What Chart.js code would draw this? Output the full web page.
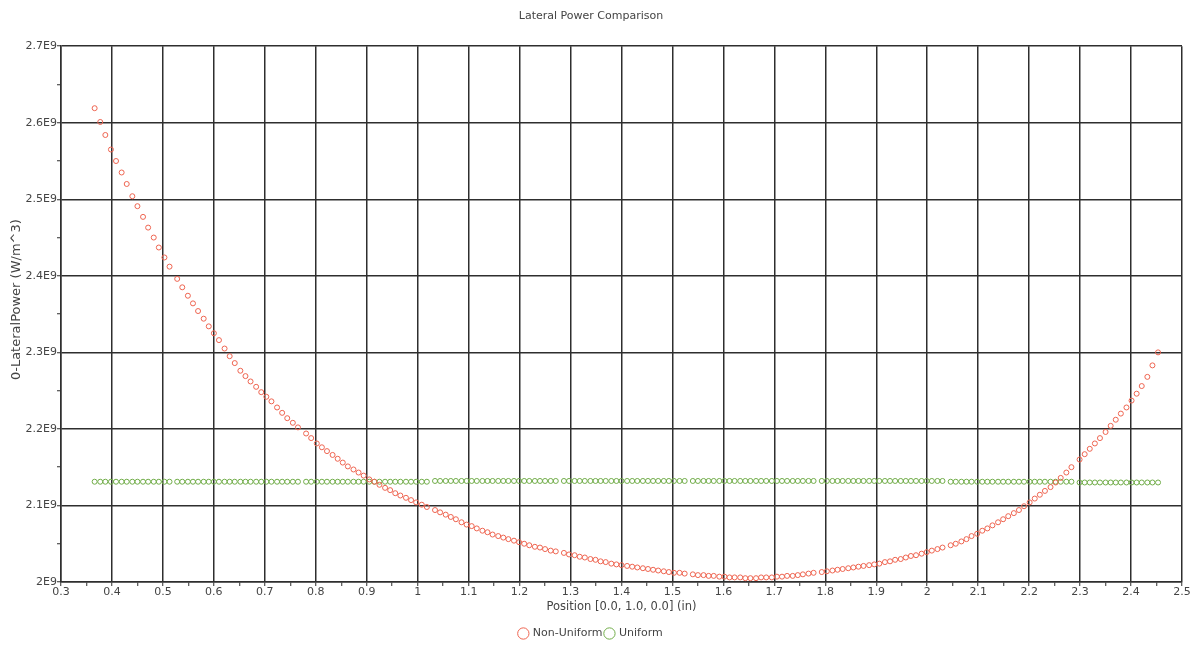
<!DOCTYPE html>
<html>
<head>
<meta charset="utf-8">
<script src="https://cdn.jsdelivr.net/npm/chart.js@4.4.1/dist/chart.umd.min.js"></script>
<style>
  html, body { margin: 0; padding: 0; background: #ffffff; }
  #wrap { width: 1195px; height: 645px; }
</style>
</head>
<body>
<div id="wrap"><canvas id="c" width="1195" height="645"></canvas></div>
<script>
// Positions along the line (in)
const positionsIn = [
  0.366, 0.377, 0.387, 0.398, 0.408, 0.419, 0.429, 0.440, 0.450, 0.461, 0.471, 0.482, 0.492, 0.503, 0.513,
  0.528, 0.538, 0.549, 0.559, 0.569, 0.580, 0.590, 0.600, 0.610, 0.621, 0.631, 0.641,
  0.652, 0.662, 0.672, 0.683, 0.693, 0.703, 0.713, 0.724, 0.734, 0.744, 0.755, 0.765,
  0.781, 0.791, 0.802, 0.812, 0.822, 0.833, 0.843, 0.853, 0.863, 0.874, 0.884, 0.894,
  0.905, 0.915, 0.925, 0.936, 0.946, 0.956, 0.966, 0.977, 0.987, 0.997, 1.008, 1.018,
  1.034, 1.044, 1.055, 1.065, 1.075, 1.086, 1.096, 1.106, 1.116, 1.127, 1.137, 1.147,
  1.158, 1.168, 1.178, 1.189, 1.199, 1.209, 1.219, 1.230, 1.240, 1.250, 1.261, 1.271,
  1.287, 1.297, 1.308, 1.318, 1.328, 1.339, 1.349, 1.359, 1.369, 1.380, 1.390, 1.400,
  1.411, 1.421, 1.431, 1.442, 1.452, 1.462, 1.472, 1.483, 1.493, 1.503, 1.514, 1.524,
  1.540, 1.550, 1.561, 1.571, 1.581, 1.592, 1.602, 1.612, 1.622, 1.633, 1.643, 1.653,
  1.664, 1.674, 1.684, 1.695, 1.705, 1.715, 1.725, 1.736, 1.746, 1.756, 1.767, 1.777,
  1.793, 1.803, 1.814, 1.824, 1.834, 1.845, 1.855, 1.865, 1.875, 1.886, 1.896, 1.906,
  1.917, 1.927, 1.937, 1.948, 1.958, 1.968, 1.978, 1.989, 1.999, 2.009, 2.020, 2.030,
  2.046, 2.056, 2.067, 2.077, 2.087, 2.098, 2.108, 2.118, 2.128, 2.139, 2.149, 2.159,
  2.170, 2.180, 2.190, 2.201, 2.211, 2.221, 2.231, 2.242, 2.252, 2.262, 2.273, 2.283,
  2.299, 2.309, 2.319, 2.329, 2.339, 2.350, 2.360, 2.370, 2.380, 2.391, 2.401, 2.411,
  2.421, 2.432, 2.442, 2.453
];

// Non-Uniform lateral power (units of 1E9 W/m^3)
const nonUniformE9 = [
  2.619, 2.601, 2.584, 2.565, 2.550, 2.535, 2.520, 2.504, 2.491, 2.477, 2.463, 2.450, 2.437, 2.424, 2.412,
  2.396, 2.385, 2.374, 2.364, 2.354, 2.344, 2.334, 2.325, 2.316, 2.305, 2.295, 2.286,
  2.276, 2.269, 2.262, 2.255, 2.248, 2.242, 2.236, 2.228, 2.221, 2.214, 2.208, 2.202,
  2.194, 2.188, 2.181, 2.176, 2.171, 2.166, 2.161, 2.156, 2.151, 2.147, 2.143, 2.139,
  2.134, 2.131, 2.127, 2.123, 2.120, 2.116, 2.113, 2.110, 2.107, 2.104, 2.101, 2.098,
  2.094, 2.091, 2.088, 2.085, 2.082, 2.078, 2.075, 2.073, 2.070, 2.067, 2.065, 2.062,
  2.060, 2.058, 2.056, 2.054, 2.052, 2.050, 2.048, 2.046, 2.045, 2.043, 2.041, 2.040,
  2.038, 2.036, 2.035, 2.033, 2.032, 2.030, 2.029, 2.027, 2.026, 2.024, 2.023, 2.022,
  2.021, 2.020, 2.019, 2.018, 2.017, 2.016, 2.015, 2.014, 2.013, 2.012, 2.012, 2.011,
  2.010, 2.009, 2.009, 2.008, 2.008, 2.007, 2.007, 2.006, 2.006, 2.006, 2.005, 2.005,
  2.005, 2.006, 2.006, 2.006, 2.007, 2.007, 2.008, 2.008, 2.009, 2.010, 2.011, 2.012,
  2.013, 2.014, 2.015, 2.016, 2.017, 2.018, 2.019, 2.020, 2.021, 2.022, 2.023, 2.024,
  2.026, 2.027, 2.029, 2.030, 2.032, 2.034, 2.035, 2.037, 2.039, 2.041, 2.043, 2.045,
  2.048, 2.050, 2.053, 2.056, 2.060, 2.063, 2.067, 2.070, 2.074, 2.078, 2.082, 2.086,
  2.090, 2.094, 2.099, 2.104, 2.109, 2.114, 2.119, 2.124, 2.130, 2.136, 2.143, 2.150,
  2.160, 2.167, 2.174, 2.181, 2.188, 2.196, 2.204, 2.212, 2.220, 2.228, 2.237, 2.246,
  2.256, 2.268, 2.283, 2.300
];

// Uniform lateral power (units of 1E9 W/m^3)
const uniformE9 = [
  2.131, 2.131, 2.131, 2.131, 2.131, 2.131, 2.131, 2.131, 2.131, 2.131, 2.131, 2.131, 2.131, 2.131, 2.131,
  2.131, 2.131, 2.131, 2.131, 2.131, 2.131, 2.131, 2.131, 2.131, 2.131, 2.131, 2.131,
  2.131, 2.131, 2.131, 2.131, 2.131, 2.131, 2.131, 2.131, 2.131, 2.131, 2.131, 2.131,
  2.131, 2.131, 2.131, 2.131, 2.131, 2.131, 2.131, 2.131, 2.131, 2.131, 2.131, 2.131,
  2.131, 2.131, 2.131, 2.131, 2.131, 2.131, 2.131, 2.131, 2.131, 2.131, 2.131, 2.131,
  2.132, 2.132, 2.132, 2.132, 2.132, 2.132, 2.132, 2.132, 2.132, 2.132, 2.132, 2.132,
  2.132, 2.132, 2.132, 2.132, 2.132, 2.132, 2.132, 2.132, 2.132, 2.132, 2.132, 2.132,
  2.132, 2.132, 2.132, 2.132, 2.132, 2.132, 2.132, 2.132, 2.132, 2.132, 2.132, 2.132,
  2.132, 2.132, 2.132, 2.132, 2.132, 2.132, 2.132, 2.132, 2.132, 2.132, 2.132, 2.132,
  2.132, 2.132, 2.132, 2.132, 2.132, 2.132, 2.132, 2.132, 2.132, 2.132, 2.132, 2.132,
  2.132, 2.132, 2.132, 2.132, 2.132, 2.132, 2.132, 2.132, 2.132, 2.132, 2.132, 2.132,
  2.132, 2.132, 2.132, 2.132, 2.132, 2.132, 2.132, 2.132, 2.132, 2.132, 2.132, 2.132,
  2.132, 2.132, 2.132, 2.132, 2.132, 2.132, 2.132, 2.132, 2.132, 2.132, 2.132, 2.132,
  2.131, 2.131, 2.131, 2.131, 2.131, 2.131, 2.131, 2.131, 2.131, 2.131, 2.131, 2.131,
  2.131, 2.131, 2.131, 2.131, 2.131, 2.131, 2.131, 2.131, 2.131, 2.131, 2.131, 2.131,
  2.130, 2.130, 2.130, 2.130, 2.130, 2.130, 2.130, 2.130, 2.130, 2.130, 2.130, 2.130,
  2.130, 2.130, 2.130, 2.130
];

const seriesNames = ['Non-Uniform', 'Uniform'];
const xTickRange = [0.3, 2.5];   // in
const yTickRange = [2.0, 2.7];   // E9 W/m^3
const E9 = 1e9;

const toPoints = (vals) => positionsIn.map((x, i) => ({ x: x, y: vals[i] * E9 }));

const gridDark = '#2e2e2e';
const textCol = '#444444';
Chart.defaults.font.family = "'DejaVu Sans', sans-serif";
Chart.defaults.font.size = 11;
Chart.defaults.color = textCol;

const isMajorX = (v) => Math.round(v / 0.05) % 2 === 0;
const isMajorY = (v) => Math.round(v / 5e7) % 2 === 0;

new Chart(document.getElementById('c'), {
  type: 'scatter',
  data: {
    datasets: [
      {
        label: seriesNames[0],
        data: toPoints(nonUniformE9),
        showLine: false,
        pointStyle: 'circle',
        pointRadius: 2.5,
        pointBorderWidth: 1,
        borderWidth: 1,
        borderColor: 'rgb(238,100,80)',
        pointBorderColor: 'rgb(238,100,80)',
        backgroundColor: 'rgba(0,0,0,0)',
        pointBackgroundColor: 'rgba(0,0,0,0)'
      },
      {
        label: seriesNames[1],
        data: toPoints(uniformE9),
        showLine: false,
        pointStyle: 'circle',
        pointRadius: 2.5,
        pointBorderWidth: 1,
        borderWidth: 1,
        borderColor: 'rgb(112,172,72)',
        pointBorderColor: 'rgb(112,172,72)',
        backgroundColor: 'rgba(0,0,0,0)',
        pointBackgroundColor: 'rgba(0,0,0,0)'
      }
    ]
  },
  options: {
    responsive: false,
    animation: false,
    devicePixelRatio: 1,
    layout: { padding: { left: 0, right: 13, top: 0, bottom: -4 } },
    plugins: {
      title: {
        display: true,
        text: 'Lateral Power Comparison',
        color: textCol,
        font: { size: 11, weight: 'normal' },
        padding: { top: 10, bottom: 23 }
      },
      legend: {
        display: true,
        position: 'bottom',
        labels: {
          usePointStyle: true,
          pointStyle: 'circle',
          boxWidth: 8,
          boxHeight: 8,
          padding: 3,
          color: textCol,
          font: { size: 11 }
        }
      },
      tooltip: { enabled: false }
    },
    scales: {
      x: {
        type: 'linear',
        min: xTickRange[0],
        max: xTickRange[1],
        afterFit: (s) => { s.height = 43; },
        ticks: {
          stepSize: 0.05,
          autoSkip: false,
          maxRotation: 0,
          padding: 0,
          color: textCol,
          callback: (v) => isMajorX(v) ? String(Math.round(v * 10) / 10) : ''
        },
        grid: {
          drawOnChartArea: true,
          color: (ctx) => (ctx.tick && isMajorX(ctx.tick.value)) ? gridDark : 'rgba(0,0,0,0)',
          lineWidth: 1.5,
          tickColor: gridDark,
          tickLength: 4,
          tickWidth: 1
        },
        border: { color: gridDark, width: 1.5 },
        title: {
          display: true,
          text: 'Position [0.0, 1.0, 0.0] (in)',
          color: textCol,
          font: { size: 11.5 },
          padding: { top: 0, bottom: 11 }
        }
      },
      y: {
        type: 'linear',
        min: yTickRange[0] * E9,
        max: yTickRange[1] * E9,
        afterFit: (s) => { s.width = 61; },
        ticks: {
          stepSize: 5e7,
          autoSkip: false,
          padding: 0,
          color: textCol,
          callback: (v) => isMajorY(v) ? (String(Math.round(v / 1e8) / 10) + 'E9') : ''
        },
        grid: {
          drawOnChartArea: true,
          color: (ctx) => (ctx.tick && isMajorY(ctx.tick.value)) ? gridDark : 'rgba(0,0,0,0)',
          lineWidth: 1.5,
          tickColor: gridDark,
          tickLength: 4,
          tickWidth: 1
        },
        border: { color: gridDark, width: 1.5 },
        title: {
          display: true,
          text: '       0-LateralPower (W/m^3)',
          color: textCol,
          font: { size: 13 },
          padding: { top: 9, bottom: 0 }
        }
      }
    }
  }
});
</script>
</body>
</html>
